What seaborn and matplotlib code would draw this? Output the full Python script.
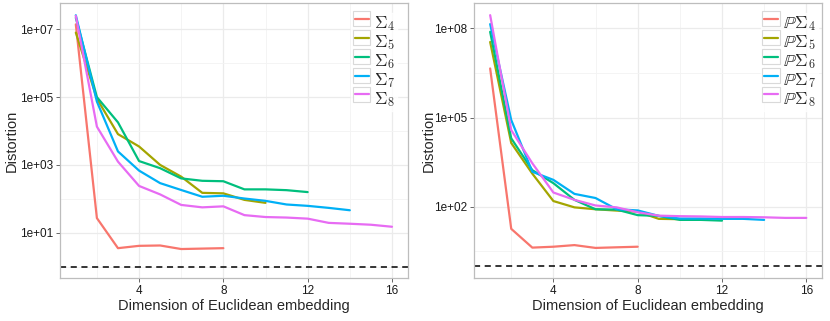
import matplotlib
matplotlib.use("Agg")
import matplotlib.pyplot as plt
import seaborn as sns
import pandas as pd
import numpy as np
from matplotlib.ticker import FixedLocator, NullFormatter
from matplotlib.patches import Rectangle
from matplotlib.lines import Line2D

# values (distortion vs embedding dimension)
sigma4 = [1.4e7, 27, 3.5, 4.1, 4.2, 3.3, 3.4, 3.5]
sigma5 = [8e6, 9e4, 8100, 3500, 1000, 450, 150, 145, 93, 76]
sigma6 = [2.2e7, 1e5, 1.8e4, 1300, 800, 400, 340, 330, 190, 190, 180, 158]
sigma7 = [2.6e7, 7.4e4, 2500, 680, 290, 182, 115, 123, 102, 87, 68, 62, 54, 46]
sigma8 = [2.5e7, 1.35e4, 1250, 240, 135, 66, 56, 60, 33, 29, 28, 26, 19.5, 18.4, 17.2, 15]

psigma4 = [4.5e6, 18, 4.2, 4.5, 5.1, 4.1, 4.3, 4.5]
psigma5 = [3.5e7, 1.4e4, 1300, 155, 95, 82, 74, 68, 39, 38]
psigma6 = [7.7e7, 2e4, 1700, 620, 170, 82, 80, 52, 49, 36, 36, 34]
psigma7 = [1.4e8, 8.3e4, 1500, 800, 270, 196, 82, 75, 49, 40, 40, 39, 39, 36]
psigma8 = [2.8e8, 3.8e4, 2900, 300, 170, 110, 95, 65, 50, 48, 47, 45, 45, 44, 42, 42]

left_labels = [r'$\Sigma_4$', r'$\Sigma_5$', r'$\Sigma_6$', r'$\Sigma_7$', r'$\Sigma_8$']
right_labels = [r'$\mathbb{P}\Sigma_4$', r'$\mathbb{P}\Sigma_5$', r'$\mathbb{P}\Sigma_6$',
                r'$\mathbb{P}\Sigma_7$', r'$\mathbb{P}\Sigma_8$']

colors = ['#F8766D', '#A3A500', '#00BF7D', '#00B0F6', '#E76BF3']


def to_long(series, labels):
    rows = []
    for vals, lab in zip(series, labels):
        for i, v in enumerate(vals):
            rows.append({'dim': i + 1, 'distortion': v, 'group': lab})
    return pd.DataFrame(rows)


class KeyHandler:
    # ggplot-like legend key: grey bordered box with the coloured line inside
    def legend_artist(self, legend, orig_handle, fontsize, handlebox):
        x0, y0 = handlebox.xdescent, handlebox.ydescent
        w, h = handlebox.width, handlebox.height
        tr = handlebox.get_transform()
        rect = Rectangle((x0, y0), w, h, facecolor='white', edgecolor='#D9D9D9',
                         linewidth=0.8, transform=tr)
        line = Line2D([x0 + 0.1 * w, x0 + 0.9 * w], [y0 + h / 2, y0 + h / 2],
                      color=orig_handle.get_color(), linewidth=1.6, transform=tr)
        handlebox.add_artist(rect)
        handlebox.add_artist(line)
        return line


df_left = to_long([sigma4, sigma5, sigma6, sigma7, sigma8], left_labels)
df_right = to_long([psigma4, psigma5, psigma6, psigma7, psigma8], right_labels)

sns.set_style('white')
plt.rcParams['font.family'] = ['Liberation Sans', 'DejaVu Sans']
plt.rcParams['mathtext.fontset'] = 'cm'

fig = plt.figure(figsize=(8.3, 3.21), dpi=100)
ax1 = fig.add_axes([0.0723, 0.133, 0.419, 0.858])
ax2 = fig.add_axes([0.5715, 0.133, 0.419, 0.858])


def style_axis(ax, df, labels, majors, minors, ylim, anchor, ylab_x):
    ax.set_yscale('log')
    ax.set_xlim(0.25, 16.75)
    ax.set_ylim(*ylim)
    ax.xaxis.set_major_locator(FixedLocator([4, 8, 12, 16]))
    ax.xaxis.set_minor_locator(FixedLocator([2, 6, 10, 14]))
    ax.yaxis.set_major_locator(FixedLocator([10.0 ** m for m in majors]))
    ax.yaxis.set_minor_locator(FixedLocator([10.0 ** m for m in minors]))
    ax.set_yticklabels(['1e+%02d' % m for m in majors])
    ax.yaxis.set_minor_formatter(NullFormatter())
    ax.grid(True, which='major', color='#EBEBEB', linewidth=0.9)
    ax.grid(True, which='minor', color='#F3F3F3', linewidth=0.6)
    ax.set_axisbelow(True)
    ax.axhline(1, color='black', linestyle=(0, (4, 3)), linewidth=1.1, zorder=1)
    sns.lineplot(data=df, x='dim', y='distortion', hue='group', hue_order=labels,
                 palette=colors, linewidth=1.6, ax=ax, legend=True, zorder=3)
    for s in ax.spines.values():
        s.set_color('#BDBDBD')
        s.set_linewidth(0.9)
    ax.tick_params(axis='both', which='major', length=3, color='#4D4D4D', width=0.6,
                   labelsize=8.5, labelcolor='#1A1A1A', pad=2, bottom=True, left=True)
    ax.tick_params(axis='both', which='minor', length=0)
    ax.set_xlabel('Dimension of Euclidean embedding', fontsize=10.5, labelpad=1)
    ax.set_ylabel('Distortion', fontsize=10.5)
    ax.yaxis.set_label_coords(ylab_x, 0.5)

    lines, labs = ax.get_legend_handles_labels()
    ax.get_legend().remove()
    leg = ax.legend(lines, labs, loc='upper right', bbox_to_anchor=anchor,
                    handler_map={Line2D: KeyHandler()},
                    frameon=True, fontsize=12.5, handlelength=1.0, handleheight=1.0,
                    handletextpad=0.2, labelspacing=0.0, borderpad=0.1,
                    borderaxespad=0.0, fancybox=False)
    leg.get_frame().set_edgecolor('white')
    leg.get_frame().set_facecolor('white')


style_axis(ax1, df_left, left_labels, [1, 3, 5, 7], [0, 2, 4, 6],
           (10 ** -0.345, 10 ** 7.78), (0.968, 0.965), -0.12)
style_axis(ax2, df_right, right_labels, [2, 5, 8], [0.5, 3.5, 6.5],
           (10 ** -0.41, 10 ** 8.86), (0.988, 0.965), -0.112)

fig.savefig('out.png', dpi=100)
